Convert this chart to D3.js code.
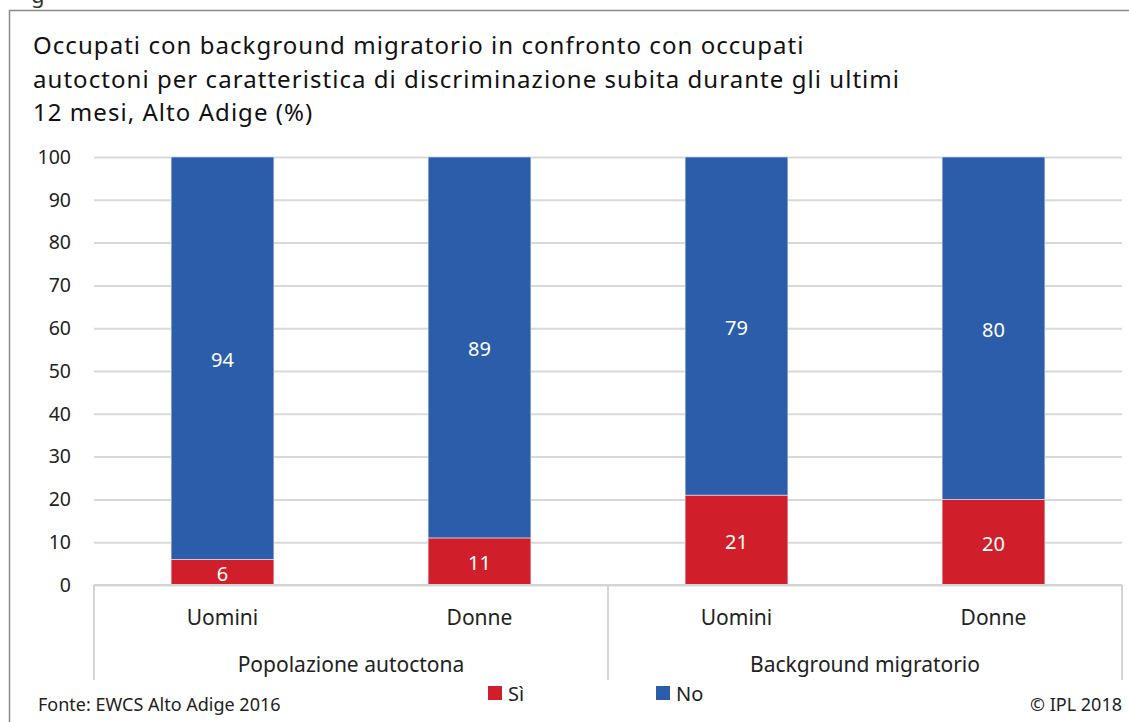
<!DOCTYPE html>
<html lang="it">
<head>
<meta charset="utf-8">
<title>Discriminazione subita - Alto Adige</title>
<script src="https://cdn.jsdelivr.net/npm/d3@7"></script>
<style>
  body { margin: 0; background: #fff; }
  svg { display: block; font-family: "Noto Sans", sans-serif; }
</style>
</head>
<body>
<script>
// data
var groups = ["Popolazione autoctona", "Background migratorio"];
var categories = ["Uomini", "Donne", "Uomini", "Donne"];
var groupOf = [0, 0, 1, 1];
var si = [6, 11, 21, 20];
var no = [94, 89, 79, 80];
var yTicks = [0, 10, 20, 30, 40, 50, 60, 70, 80, 90, 100];
var titleLines = [
  "Occupati con background migratorio in confronto con occupati",
  "autoctoni per caratteristica di discriminazione subita durante gli ultimi",
  "12 mesi, Alto Adige (%)"
];
var colRed = "#d01f2a", colBlue = "#2b5dab";

var W = 1129, H = 722;
var mLeft = 94, mRight = 1122, mTop = 157, mBottom = 585;

var svg = d3.select("body").append("svg")
  .attr("width", W).attr("height", H);

// frame + cut-off letter above
svg.append("text").attr("x", 31).attr("y", 3).attr("font-size", 22).attr("fill", "#333").text("g");
svg.append("path").attr("d", "M9.5," + H + " V10.5 H" + W)
  .attr("fill", "none").attr("stroke", "#8a8a8a").attr("stroke-width", 1.5);

// title
svg.append("g").selectAll("text").data(titleLines).enter().append("text")
  .attr("x", 33).attr("y", function(d, i) { return 54 + i * 33.5; })
  .attr("font-size", 24).attr("letter-spacing", 1.05).attr("fill", "#111")
  .text(function(d) { return d; });

var x = d3.scaleBand().domain(d3.range(categories.length)).range([mLeft, mRight]).paddingInner(0.6).paddingOuter(0.3);
var y = d3.scaleLinear().domain([0, 100]).range([mBottom, mTop]);

// grid lines
var yAxis = d3.axisLeft(y).tickValues(yTicks).tickSize(-(mRight - mLeft)).tickPadding(23);
var ga = svg.append("g").attr("transform", "translate(" + mLeft + ",0)").call(yAxis);
ga.select(".domain").remove();
ga.selectAll(".tick line").attr("stroke", "#d9d9d9").attr("stroke-width", 2);
ga.selectAll(".tick text").attr("font-size", 19.5).attr("fill", "#222").attr("font-family", "Noto Sans, sans-serif");

// bars
var stacks = categories.map(function(c, i) {
  return [{ k: "si", y0: 0, y1: si[i], i: i }, { k: "no", y0: si[i], y1: si[i] + no[i], i: i }];
});
var bars = svg.append("g");
stacks.forEach(function(s) {
  bars.selectAll(null).data(s).enter().append("rect")
    .attr("x", function(d) { return x(d.i); })
    .attr("width", x.bandwidth())
    .attr("y", function(d) { return y(d.y1); })
    .attr("height", function(d) { return y(d.y0) - y(d.y1); })
    .attr("fill", function(d) { return d.k == "si" ? colRed : colBlue; })
    .attr("stroke", "#e8e8e8").attr("stroke-width", 0.6);
  bars.selectAll(null).data(s).enter().append("text")
    .attr("x", function(d) { return x(d.i) + x.bandwidth() / 2; })
    .attr("y", function(d) { return (y(d.y0) + y(d.y1)) / 2 + 9; })
    .attr("text-anchor", "middle").attr("font-size", 20).attr("fill", "#fff")
    .text(function(d) { return d.y1 - d.y0; });
});

// category axis
var axisCol = "#d4d4d4";
svg.append("line").attr("x1", mLeft).attr("x2", mRight).attr("y1", mBottom).attr("y2", mBottom)
  .attr("stroke", axisCol).attr("stroke-width", 2);
var seps = [0, 2, 4];
svg.append("g").selectAll("line").data(seps).enter().append("line")
  .attr("x1", function(d) { return mLeft + d * (mRight - mLeft) / categories.length; })
  .attr("x2", function(d) { return mLeft + d * (mRight - mLeft) / categories.length; })
  .attr("y1", mBottom).attr("y2", 680)
  .attr("stroke", axisCol).attr("stroke-width", 2);

svg.append("g").selectAll("text").data(categories).enter().append("text")
  .attr("x", function(d, i) { return x(i) + x.bandwidth() / 2; })
  .attr("y", 625).attr("text-anchor", "middle").attr("font-size", 21).attr("fill", "#222")
  .text(function(d) { return d; });

svg.append("g").selectAll("text").data(groups).enter().append("text")
  .attr("x", function(d, gi) {
    var idx = d3.range(categories.length).filter(function(i) { return groupOf[i] == gi; });
    return (x(idx[0]) + x(idx[idx.length - 1]) + x.bandwidth()) / 2;
  })
  .attr("y", 672).attr("text-anchor", "middle").attr("font-size", 21).attr("fill", "#222")
  .text(function(d) { return d; });

// legend
var legend = [{ n: "Sì", c: colRed, x: 488 }, { n: "No", c: colBlue, x: 656 }];
var lg = svg.append("g").selectAll("g").data(legend).enter().append("g")
  .attr("transform", function(d) { return "translate(" + d.x + ",686)"; });
lg.append("rect").attr("width", 14).attr("height", 14).attr("fill", function(d) { return d.c; });
lg.append("text").attr("x", 20).attr("y", 15).attr("font-size", 20).attr("fill", "#222")
  .text(function(d) { return d.n; });

// footer
svg.append("text").attr("x", 38).attr("y", 711).attr("font-size", 18).attr("fill", "#222")
  .text("Fonte: EWCS Alto Adige 2016");
svg.append("text").attr("x", 1122).attr("y", 711).attr("text-anchor", "end").attr("font-size", 18).attr("fill", "#222")
  .text("© IPL 2018");
</script>
</body>
</html>
